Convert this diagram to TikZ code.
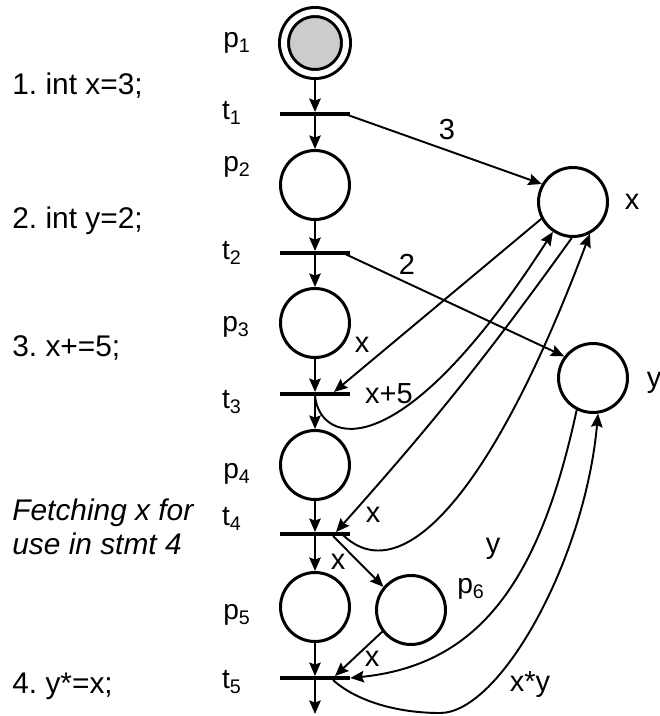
\documentclass[tikz,border=0pt]{standalone}
\usepackage{fontspec}
\setmainfont{Liberation Sans}
\frenchspacing
\usetikzlibrary{arrows.meta,calc}
\tikzset{
  place/.style={circle,draw,line width=0.06cm,minimum size=1.38cm,inner sep=0pt},
  trans/.style={rectangle,fill=black,minimum width=1.4cm,minimum height=0.065cm,inner sep=0pt},
  arc/.style={line width=1.1pt,-{Stealth[length=0.27cm,width=0.23cm,inset=0.04cm]}},
  lbl/.style={font=\fontsize{16}{18}\selectfont,inner sep=0pt},
  wlbl/.style={font=\fontsize{16.5}{19}\selectfont,inner sep=0pt},
  stmt/.style={font=\fontsize{17}{18.8}\selectfont,anchor=base west,inner sep=0pt}
}
\begin{document}
\begin{tikzpicture}[x=0.02cm,y=-0.02cm]
      \useasboundingbox (0,0) rectangle (659,716);
      \node[place,fill=gray!40,minimum size=1.24cm,double,double distance=0.12cm,outer sep=0.12cm] (p1) at (315,43) {};
      \node[place] (p2) at (315,185) {};
      \node[place] (p3) at (315,323) {};
      \node[place] (p4) at (315,465) {};
      \node[place] (p5) at (315,607) {};
      \node[place] (p6) at (411,610) {};
      \node[place] (varx) at (573,202) {};
      \node[place] (vary) at (593,378) {};
      \node[trans] (t1) at (315,114) {};
      \node[trans] (t2) at (315,253) {};
      \node[trans] (t3) at (315,394) {};
      \node[trans] (t4) at (315,534) {};
      \node[trans] (t5) at (315,678) {};
      \coordinate (out) at (315,714);
      \draw[arc] (p1) -- (t1);
      \draw[arc] (t1) -- (p2);
      \draw[arc] (p2) -- (t2);
      \draw[arc] (t2) -- (p3);
      \draw[arc] (p3) -- (t3);
      \draw[arc] (t3) -- (p4);
      \draw[arc] (p4) -- (t4);
      \draw[arc] (t4) -- (p5);
      \draw[arc] (p5) -- (t5);
      \draw[arc] (t5) -- (out);
      \draw[arc] ($(t1)+(30,0)$) -- (varx.150);
      \draw[arc] ($(t2)+(28,0)$) -- (vary.143);
      \draw[arc] (varx.208) -- ($(t3)+(19,-2)$);
      \draw[arc] (t3.south) .. controls (320,445) and (400,470) .. (varx.236);
      \draw[arc] (varx.268) to[bend left=3] ($(t4)+(21,-2)$);
      \draw[arc] ($(t4)+(28,1)$) .. controls (400,590) and (490,500) .. (varx.298);
      \draw[arc] ($(t4)+(18,2)$) -- (p6.140);
      \draw[arc] (p6.217) -- ($(t5)+(20,-2)$);
      \draw[arc] (vary.243) .. controls (540,580) and (480,665) .. (t5.east);
      \draw[arc] ($(t5)+(18,2)$) .. controls (355,700) and (395,713) .. (440,713)
                 .. controls (500,713) and (585,560) .. (vary.278);
      \node[lbl] (lp1) at (237,43) {p\textsubscript{1}};
      \node[lbl] (lt1) at (232,113) {t\textsubscript{1}};
      \node[lbl] (lp2) at (237,167) {p\textsubscript{2}};
      \node[lbl] (lt2) at (232,253) {t\textsubscript{2}};
      \node[lbl] (lp3) at (236,327) {p\textsubscript{3}};
      \node[lbl] (lt3) at (232,402) {t\textsubscript{3}};
      \node[lbl] (lp4) at (237,474) {p\textsubscript{4}};
      \node[lbl] (lt4) at (232,519) {t\textsubscript{4}};
      \node[lbl] (lp5) at (237,615) {p\textsubscript{5}};
      \node[lbl] (lt5) at (232,682) {t\textsubscript{5}};
      \node[lbl] (lp6) at (471,589) {p\textsubscript{6}};
      \node[wlbl] (lvx) at (632,202) {x};
      \node[wlbl] (lvy) at (654,383) {y};
      \node[wlbl] (w3) at (447,130) {3};
      \node[wlbl] (w2) at (407,264) {2};
      \node[wlbl] (w3x) at (362,345) {x};
      \node[wlbl] (w3o) at (389,394) {x+5};
      \node[wlbl] (w4x) at (373,515) {x};
      \node[wlbl] (w4y) at (493,549) {y};
      \node[wlbl] (w5x) at (338,562) {x};
      \node[wlbl] (w6x) at (372,659) {x};
      \node[wlbl] (w5o) at (530,685) {x*y};
      \node[stmt] (s1) at (12,95) {1. int x=3;};
      \node[stmt] (s2) at (12,228) {2. int y=2;};
      \node[stmt] (s3) at (12,356) {3. x+=5;};
      \node[stmt,font=\fontsize{17}{18.8}\selectfont\itshape,align=left] (s4) at (12,554) {Fetching x for\\use in stmt 4};
      \node[stmt] (s5) at (12,693) {4. y*=x;};
\end{tikzpicture}
\end{document}
